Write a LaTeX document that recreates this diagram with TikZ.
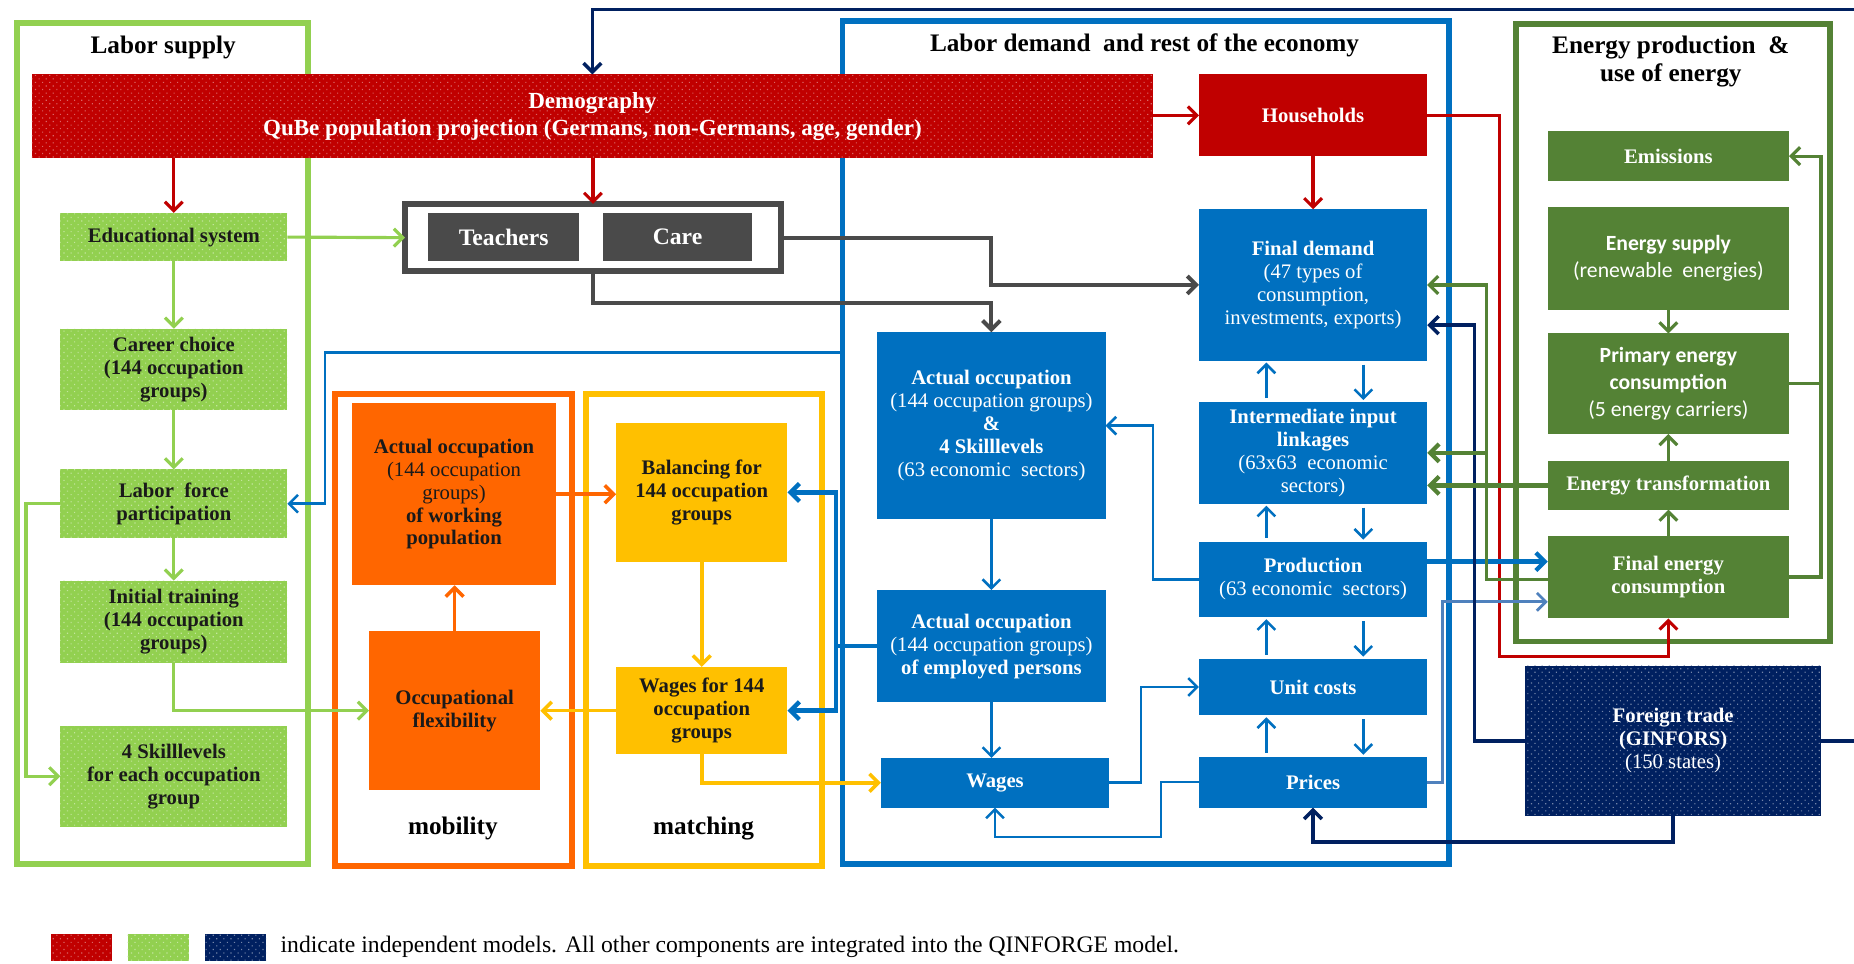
\documentclass[tikz,border=0pt]{standalone}
\usepackage{fontspec}
\setmainfont{Liberation Serif}
\newfontfamily\calfont{Carlito}
\usetikzlibrary{arrows.meta,patterns.meta}
\definecolor{cRed}{HTML}{C00000}
\definecolor{cLG}{HTML}{92D050}
\definecolor{cNavy}{HTML}{002060}
\definecolor{cBlue}{HTML}{0070C0}
\definecolor{cLBlue}{HTML}{4F81BD}
\definecolor{cOr}{HTML}{FF6600}
\definecolor{cYel}{HTML}{FFC000}
\definecolor{cDG}{HTML}{548235}
\definecolor{cGray}{HTML}{4A4A4A}
\definecolor{cTxt}{HTML}{1A1A1A}
\newcommand\fB{\fontsize{10.5}{11.6}\selectfont}
\newcommand\fT{\fontsize{12.8}{14.4}\selectfont\bfseries}
\newcommand{\mybox}[7]{%
  \pgfmathsetmacro{\mbw}{(#5-#3)*0.6}%
  \pgfmathsetmacro{\mbh}{(#6-#4)*0.6}%
  \node[bx,#2,minimum width=\mbw pt,minimum height=\mbh pt] (#1) at ({(#3+#5)/2},{(#4+#6)/2}) {#7};}
\begin{document}
\begin{tikzpicture}[x=0.6pt,y=-0.6pt,
  bx/.style={inner sep=1pt, outer sep=0pt, align=center, font=\fB\bfseries},
  dotted fill/.style={postaction={pattern={Dots[angle=45,distance=2.55pt,radius=0.4pt]}, pattern color=#1}},
  lg/.style={fill=cLG, text=cTxt, dotted fill=cLG!55!white},
  rd/.style={fill=cRed, text=white, dotted fill=cRed!60!white},
  nv/.style={fill=cNavy, text=white, dotted fill=cNavy!55!white},
  hhs/.style={fill=cRed, text=white},
  bl/.style={fill=cBlue, text=white},
  or/.style={fill=cOr, text=cTxt},
  yl/.style={fill=cYel, text=cTxt},
  dg/.style={fill=cDG, text=white},
  gy/.style={fill=cGray, text=white, font=\fontsize{12}{14}\selectfont\bfseries},
  tcf/.style={draw=cGray, line width=3pt},
  calf/.style={font=\calfont\fontsize{11}{13.5}\selectfont\bfseries},
  lgd/.style={inner sep=0pt, outer sep=0pt, minimum width=31.2pt, minimum height=13.8pt},
  frm/.style={line width=3pt},
  tip/.style={-{Straight Barb[length=4.5pt,width=9pt]}},
  gA/.style={draw=cLG, line width=1.6pt, tip},
  rA/.style={draw=cRed, line width=1.6pt, tip},
  gyA/.style={draw=cGray, line width=2pt, tip},
  oA/.style={draw=cOr, line width=1.8pt, tip},
  yA/.style={draw=cYel, line width=1.8pt, tip},
  bA/.style={draw=cBlue, line width=1.3pt, tip},
  bTA/.style={draw=cBlue, line width=2.2pt, tip},
  lbA/.style={draw=cLBlue, line width=1.4pt, tip},
  nvA/.style={draw=cNavy, line width=1.8pt, tip},
  dgA/.style={draw=cDG, line width=1.6pt, tip},
  dgTA/.style={draw=cDG, line width=2.2pt, tip},
  dgL/.style={draw=cDG, line width=1.6pt}
]
\useasboundingbox (0,0) rectangle (1568,815);
\fill[white] (0,0) rectangle (1568,815);

% frames
\draw[frm, cLG] (14.5,19.5) rectangle (260.5,730.5);
\draw[frm, cBlue] (712.5,17.5) rectangle (1225.5,730.5);
\draw[frm, cDG] (1282.5,20.5) rectangle (1547.5,542.5);
\draw[frm, cOr] (283.5,333.5) rectangle (483.5,732.5);
\draw[frm, cYel] (495.5,333.5) rectangle (695.5,732.5);

% titles
\node[font=\fT] (tls) at (138,40) {Labor supply};
\node[font=\fT] (tld) at (968,38) {Labor demand\ \ and rest of the economy};
\node[font=\fT, align=center] (ten) at (1413,52) {Energy production\ \ \&\\use of energy};
\node[font=\fT] (tmob) at (383,701) {mobility};
\node[font=\fT] (tmat) at (595,701) {matching};

% boxes
\mybox{demog}{rd,font=\fontsize{11.7}{13.6}\selectfont\bfseries}{27}{63}{975}{134}{Demography\\QuBe population projection (Germans, non-Germans, age, gender)}
\mybox{hh}{hhs}{1014}{63}{1207}{132}{Households}
\mybox{edu}{lg}{51}{180}{243}{221}{Educational system}
\mybox{cc}{lg}{51}{278}{243}{347}{Career choice\\(144 occupation\\groups)}
\mybox{lfp}{lg}{51}{397}{243}{455}{Labor\ \ force\\participation}
\mybox{it}{lg}{51}{491}{243}{561}{Initial training\\(144 occupation\\groups)}
\mybox{sk}{lg}{51}{614}{243}{699}{4 Skilllevels\\for each occupation\\group}
\mybox{tc}{tcf}{342.5}{172.5}{660.5}{229.5}{}
\mybox{tea}{gy}{362}{180}{490}{221}{Teachers}
\mybox{care}{gy}{510}{180}{636}{221}{Care}
\mybox{aow}{or}{298}{341}{470}{495}{Actual occupation\\{\mdseries(144 occupation}\\{\mdseries groups)}\\of working\\population}
\mybox{of}{or}{312}{534}{457}{668}{Occupational\\flexibility}
\mybox{bal}{yl}{521}{358}{666}{475}{Balancing for\\144 occupation\\groups}
\mybox{w144}{yl}{521}{564}{666}{638}{Wages for 144\\occupation\\groups}
\mybox{aos}{bl}{742}{281}{935}{439}{Actual occupation\\{\mdseries(144 occupation groups)}\\\&\\4 Skilllevels\\{\mdseries(63 economic\ \ sectors)}}
\mybox{aoe}{bl}{742}{499}{935}{594}{Actual occupation\\{\mdseries(144 occupation groups)}\\of employed persons}
\mybox{wag}{bl}{745}{641}{938}{683}{Wages}
\mybox{fd}{bl}{1014}{177}{1207}{305}{Final demand\\{\mdseries(47 types of}\\{\mdseries consumption,}\\{\mdseries investments, exports)}}
\mybox{iil}{bl}{1014}{340}{1207}{426}{Intermediate input\\linkages\\{\mdseries(63x63\ \ economic}\\{\mdseries sectors)}}
\mybox{prod}{bl}{1014}{458}{1207}{522}{Production\\{\mdseries(63 economic\ \ sectors)}}
\mybox{uc}{bl}{1014}{557}{1207}{605}{Unit costs}
\mybox{pr}{bl}{1014}{640}{1207}{683}{Prices}
\mybox{emis}{dg}{1309}{111}{1513}{153}{Emissions}
\mybox{es}{dg,calf}{1309}{175}{1513}{262}{Energy supply\\{\mdseries(renewable\ \ energies)}}
\mybox{pe}{dg,calf}{1309}{282}{1513}{367}{Primary energy\\consumption\\{\mdseries(5 energy carriers)}}
\mybox{et}{dg}{1309}{390}{1513}{431}{Energy transformation}
\mybox{fec}{dg}{1309}{453}{1513}{523}{Final energy\\consumption}
\mybox{ft}{nv}{1290}{563}{1540}{690}{Foreign trade\\(GINFORS)\\{\mdseries(150 states)}}

% navy top loop
\draw[nvA] (ft.east) -| (1590,8) -| (demog.north);

% red
\draw[rA] (demog.east |- hh.west) -- (hh.west);
\draw[rA] (demog.south -| edu.north) -- (edu.north);
\draw[rA] (demog.south -| tc.north) -- (tc.north);
\draw[rA] (hh.south) -- (fd.north);
\draw[rA] (hh.east) -| (1268,555) -| (fec.south);

% light green
\draw[gA] (edu.east) -- (tc.west);
\draw[gA] (edu.south) -- (cc.north);
\draw[gA] (cc.south) -- (lfp.north);
\draw[gA] (lfp.south) -- (it.north);
\draw[gA] (lfp.west) -| (sk.west -| 22,0) -- (sk.west);
\draw[gA] (it.south) |- (of.west);

% gray
\draw[gyA] (tc.east) -| (838,241) -- (fd.west |- 838,241);
\draw[gyA] (tc.south) |- (aos.north |- 0,256) -- (aos.north);

% thin blue from labor demand frame
\coordinate (ldf) at (712,298);
\draw[bA] (ldf) -| (275,360) |- (lfp.east);

% orange / yellow
\draw[oA] (of.north) -- (of.north |- aow.south);
\draw[oA] (aow.east) -- (aow.east -| bal.west);
\draw[yA] (bal.south) -- (w144.north);
\draw[yA] (w144.west) -- (w144.west -| of.east);
\draw[yA] (w144.south) |- (wag.west);

% blue
\coordinate (jb) at (707,0);
\draw[bTA] (aoe.west) -| (jb |- bal.east) -- (bal.east);
\draw[bTA] (aoe.west) -| (jb |- w144.east) -- (w144.east);
\draw[bA] (aos.south) -- (aoe.north);
\draw[bA] (aoe.south) -- (aoe.south |- wag.north);
\draw[bA] (prod.west) -| (975,360) -- (aos.east |- 975,360);
\draw[bA] (wag.east) -| (965,581) -- (uc.west);
\draw[bA] (pr.west) -| (982,708) -| (wag.south);
\foreach \a/\b in {fd/iil, iil/prod, prod/uc, uc/pr} {
  \draw[bA, shorten <=2pt, shorten >=1pt] (\b.north -| 1071,0) -- (\a.south -| 1071,0);
  \draw[bA, shorten <=2pt, shorten >=1pt] (\a.south -| 1153,0) -- (\b.north -| 1153,0);
}
\draw[bTA] (prod.east |- 0,475) -- (fec.west |- 0,475);
\draw[lbA] (pr.east) -| (1220,509) -- (fec.west |- 0,509);

% navy
\draw[nvA] (ft.west) -| (1247,275) -- (fd.east |- 0,275);
\draw[nvA] (ft.south) |- (pr.south |- 0,712) -- (pr.south);

% dark green
\draw[dgA] (fec.east) -| (emis.east -| 1540,0) -- (emis.east);
\draw[dgL] (pe.east) -- (pe.east -| 1540,0);
\draw[dgA] (es.south) -- (pe.north);
\draw[dgA] (et.north) -- (pe.south);
\draw[dgA] (fec.north) -- (et.south);
\draw[dgTA] (et.west) -- (et.west -| iil.east);
\draw[dgA] (fec.west |- 0,490) -| (1257,241) -- (fd.east |- 0,241);
\coordinate (gj) at (1257,383);
\draw[dgTA] (gj) -- (iil.east |- gj);

% legend
\node[lgd, rd] (lr) at (69,801.5) {};
\node[lgd, lg] (lgg) at (134,801.5) {};
\node[lgd, nv] (ln) at (199,801.5) {};
\node[anchor=west, inner sep=0pt, font=\fontsize{12}{14}\selectfont] (lt) at (237,801) {indicate independent models. All other components are integrated into the QINFORGE model.};
\end{tikzpicture}
\end{document}
